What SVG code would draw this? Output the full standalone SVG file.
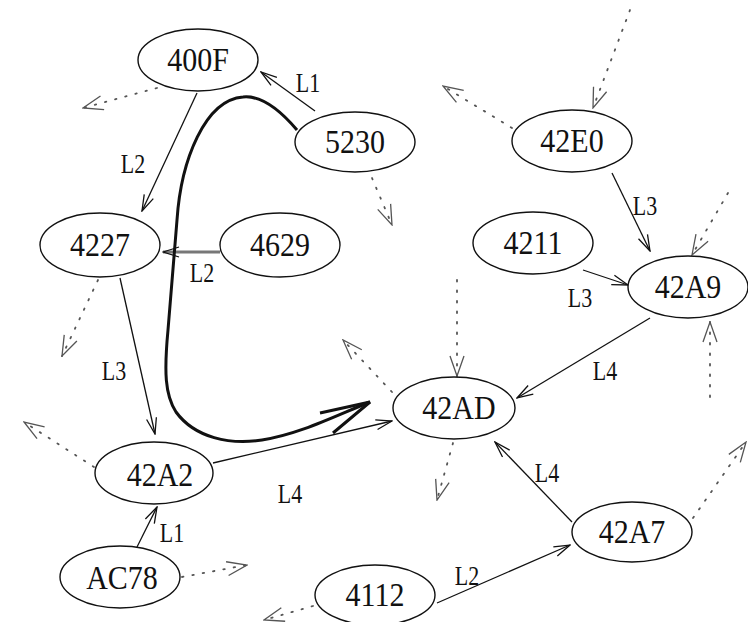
<svg xmlns="http://www.w3.org/2000/svg" width="748" height="622" viewBox="0 0 748 622">
<defs>
<style>
.node ellipse{fill:#fff;stroke:#111;stroke-width:1.4}
.node text{font-family:"Liberation Serif","Times New Roman",serif;font-size:30px;fill:#111;text-anchor:middle}
.lbl{font-family:"Liberation Serif","Times New Roman",serif;font-size:22px;fill:#111;text-anchor:middle}
.e{fill:none;stroke:#111;stroke-width:1.3;marker-end:url(#a)}
.d{fill:none;stroke:#555;stroke-width:1.8;stroke-dasharray:1.5 9;stroke-linecap:round;marker-end:url(#b)}
</style>
<marker id="a" viewBox="0 0 18 12" refX="17" refY="6" markerWidth="18" markerHeight="12" orient="auto" markerUnits="userSpaceOnUse">
<path d="M1,1 L17,6 L1,11" fill="none" stroke="#111" stroke-width="1.3"/>
</marker>
<marker id="b" viewBox="0 0 22 16" refX="21" refY="8" markerWidth="22" markerHeight="16" orient="auto" markerUnits="userSpaceOnUse">
<path d="M1,1 L21,8 L1,15" fill="none" stroke="#555" stroke-width="1.3"/>
</marker>
</defs>
<rect width="748" height="622" fill="#fff"/>
<g id="connectors">
<line class="e" x1="315" y1="111" x2="261" y2="72"/>
<line class="e" x1="197" y1="93" x2="142" y2="211"/>
<line class="e" x1="220" y1="252" x2="163" y2="252" style="stroke:#777;stroke-width:3"/>
<line class="e" x1="120" y1="278" x2="155" y2="434"/>
<line class="e" x1="612" y1="173" x2="650" y2="251"/>
<line class="e" x1="583" y1="270" x2="628" y2="285"/>
<line class="e" x1="650" y1="318" x2="517" y2="398"/>
<line class="e" x1="572" y1="522" x2="495" y2="442"/>
<line class="e" x1="437" y1="603" x2="570" y2="545"/>
<line class="e" x1="213" y1="463" x2="392" y2="421"/>
<line class="e" x1="137" y1="547" x2="157" y2="507"/>
<path d="M297,130 C280,110 262,95 243,97 C205,100 181,160 177,220 L168,330 C164,372 165,395 176,412 C195,438 230,445 262,440 C300,434 335,416 370,402" fill="none" stroke="#111" stroke-width="3"/>
<polyline points="320,413 370,402 333,433" fill="none" stroke="#111" stroke-width="3"/>
<line class="d" x1="157" y1="88" x2="83" y2="108"/>
<line class="d" x1="372" y1="178" x2="392" y2="225"/>
<line class="d" x1="630" y1="10" x2="593" y2="108"/>
<line class="d" x1="512" y1="128" x2="443" y2="86"/>
<line class="d" x1="728" y1="193" x2="692" y2="255"/>
<line class="d" x1="710" y1="397" x2="710" y2="322"/>
<line class="d" x1="457" y1="280" x2="457" y2="376"/>
<line class="d" x1="392" y1="392" x2="343" y2="340"/>
<line class="d" x1="453" y1="443" x2="437" y2="500"/>
<line class="d" x1="693" y1="518" x2="746" y2="442"/>
<line class="d" x1="94" y1="467" x2="24" y2="422"/>
<line class="d" x1="98" y1="280" x2="62" y2="356"/>
<line class="d" x1="182" y1="577" x2="247" y2="565"/>
<line class="d" x1="313" y1="606" x2="264" y2="620"/>
<text class="lbl" transform="translate(308,92) scale(1,1.2)">L1</text>
<text class="lbl" transform="translate(133,173) scale(1,1.2)">L2</text>
<text class="lbl" transform="translate(202,282) scale(1,1.2)">L2</text>
<text class="lbl" transform="translate(114,380) scale(1,1.2)">L3</text>
<text class="lbl" transform="translate(645,215) scale(1,1.2)">L3</text>
<text class="lbl" transform="translate(580,307) scale(1,1.2)">L3</text>
<text class="lbl" transform="translate(605,380) scale(1,1.2)">L4</text>
<text class="lbl" transform="translate(547,482) scale(1,1.2)">L4</text>
<text class="lbl" transform="translate(290,503) scale(1,1.2)">L4</text>
<text class="lbl" transform="translate(172,542) scale(1,1.2)">L1</text>
<text class="lbl" transform="translate(467,585) scale(1,1.2)">L2</text>
</g>
<g id="n400F" class="node"><ellipse cx="198" cy="60" rx="60" ry="31"/><text transform="translate(198,71) scale(1,1.1)">400F</text></g>
<g id="n5230" class="node"><ellipse cx="355" cy="142" rx="60" ry="30"/><text transform="translate(355,153) scale(1,1.1)">5230</text></g>
<g id="n42E0" class="node"><ellipse cx="572" cy="141" rx="60" ry="31"/><text transform="translate(572,152) scale(1,1.1)">42E0</text></g>
<g id="n4211" class="node"><ellipse cx="533" cy="243" rx="60" ry="31"/><text transform="translate(533,254) scale(1,1.1)">4211</text></g>
<g id="n42A9" class="node"><ellipse cx="688" cy="287" rx="60" ry="31"/><text transform="translate(688,298) scale(1,1.1)">42A9</text></g>
<g id="n4227" class="node"><ellipse cx="100" cy="245" rx="60" ry="32"/><text transform="translate(100,256) scale(1,1.1)">4227</text></g>
<g id="n4629" class="node"><ellipse cx="280" cy="245" rx="60" ry="32"/><text transform="translate(280,256) scale(1,1.1)">4629</text></g>
<g id="n42AD" class="node"><ellipse cx="454" cy="408" rx="61" ry="31"/><text transform="translate(459,419) scale(1,1.1)">42AD</text></g>
<g id="n42A2" class="node"><ellipse cx="154" cy="473" rx="59" ry="31"/><text transform="translate(160,486) scale(1,1.1)">42A2</text></g>
<g id="nAC78" class="node"><ellipse cx="120" cy="577" rx="60" ry="31"/><text transform="translate(122,589) scale(1,1.1)">AC78</text></g>
<g id="n4112" class="node"><ellipse cx="375" cy="595" rx="60" ry="30"/><text transform="translate(375,606) scale(1,1.1)">4112</text></g>
<g id="n42A7" class="node"><ellipse cx="632" cy="532" rx="60" ry="30"/><text transform="translate(632,543) scale(1,1.1)">42A7</text></g>
</svg>
